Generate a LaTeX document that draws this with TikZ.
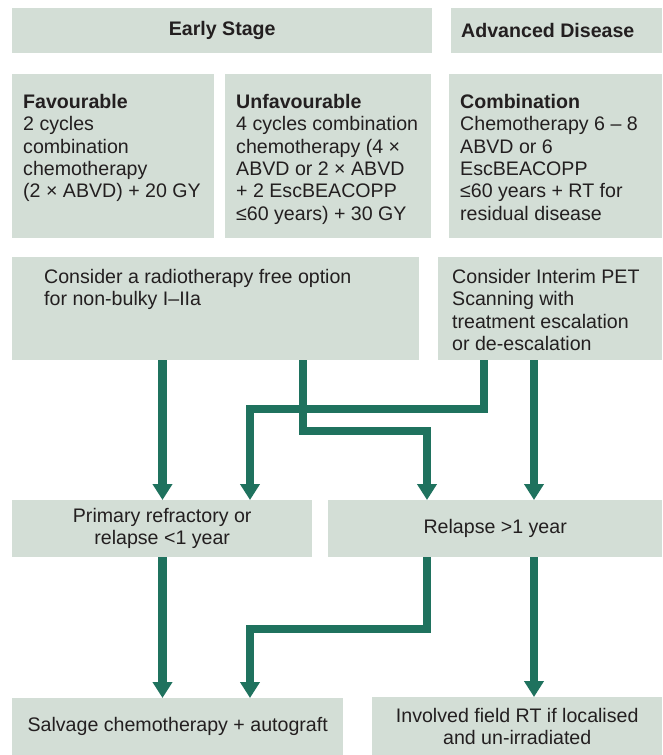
\documentclass[tikz,border=0pt]{standalone}
\usepackage{fontspec}
\setmainfont{Liberation Sans}
\usetikzlibrary{arrows.meta}

\definecolor{boxgreen}{RGB}{211,222,214}
\definecolor{arrowgreen}{RGB}{31,114,94}
\definecolor{inkgrey}{RGB}{35,31,32}

\begin{document}
\begin{tikzpicture}[x=1pt, y=-1pt,
    box/.style={fill=boxgreen, text=inkgrey, anchor=north west, inner sep=0pt,
      font=\fontsize{19.6}{22.4}\selectfont},
    head/.style={box, minimum height=45pt,
      font=\fontsize{19.6}{22.4}\selectfont\bfseries},
    stage/.style={box, align=flush left, inner xsep=11pt, inner ysep=20pt,
      text height=14pt, text depth=110pt},
    option/.style={box, align=flush left, inner ysep=12pt,
      text height=14pt, text depth=65pt},
    outcome/.style={box, align=center, minimum height=57pt},
    flow/.style={draw=arrowgreen, line width=8.5pt,
      -{Triangle[width=19pt, length=16pt]}}]

      \useasboundingbox (0,0) rectangle (662,755);

      % Headings.
      \node[head, minimum width=420pt] (early) at (12,8) {Early Stage\hspace{12pt}};
      \node[head, align=flush left, inner xsep=10pt, text width=191pt] (adv) at
      (451,8) {Advanced Disease};

      % Treatment by stage.
      \node[stage, text width=180pt] (fav) at (12,74) {\textbf{Favourable}\\2
      cycles\\combination\\chemotherapy\\(2 × ABVD) + 20 GY};
      \node[stage, text width=184pt] (unfav) at (225,74) {\textbf{Unfavourable}\\4
      cycles combination\\chemotherapy (4 ×\\ABVD or 2 × ABVD\\+ 2
      EscBEACOPP\\≤60 years) + 30 GY};
      \node[stage, text width=191pt] (comb) at (449,74)
      {\textbf{Combination}\\Chemotherapy 6 – 8\\ABVD or
      6\\EscBEACOPP\\≤60 years + RT for\\residual disease};

      % Options.
      \node[option, inner xsep=32pt, text width=343pt] (radio) at (12,257)
      {Consider a radiotherapy free option\\for non-bulky I–IIa};
      \node[option, inner xsep=14pt, text width=196pt] (pet) at (438,257)
      {Consider Interim PET\\Scanning with\\treatment escalation\\or
      de-escalation};

      % Relapse.
      \node[outcome, minimum width=300pt] (prim) at (12,500) {Primary refractory
      or\\relapse <1 year};
      \node[outcome, minimum width=334pt] (rel) at (328,500) {Relapse >1 year};

      % Salvage.
      \node[outcome, minimum width=331pt] (salv) at (12,698) {Salvage
      chemotherapy + autograft};
      \node[outcome, minimum width=290pt, minimum height=58pt] (inv) at (372,697)
      {Involved field RT if localised\\and un-irradiated};

      % Columns and jogs of the arrows.
      \coordinate (colA) at (162.5,0); \coordinate (colB) at (250,0);
      \coordinate (colC) at (427,0); \coordinate (colD) at (534,0);
      \coordinate (colR) at (303,0); \coordinate (colP) at (484,0);
      \coordinate (jogP) at (0,409); \coordinate (jogR) at (0,431);
      \coordinate (jogL) at (0,629);

      % Arrows.
      \draw[flow] (radio.south -| colA) -- (prim.north -| colA);
      \draw[flow] (radio.south -| colR) |- (jogR -| colC) -- (rel.north -| colC);
      \draw[flow] (pet.south -| colP) |- (jogP -| colB) -- (prim.north -| colB);
      \draw[flow] (pet.south -| colD) -- (rel.north -| colD);
      \draw[flow] (prim.south -| colA) -- (salv.north -| colA);
      \draw[flow] (rel.south -| colC) |- (jogL -| colB) -- (salv.north -| colB);
      \draw[flow] (rel.south -| colD) -- (inv.north -| colD);
    \end{tikzpicture}
\end{document}
